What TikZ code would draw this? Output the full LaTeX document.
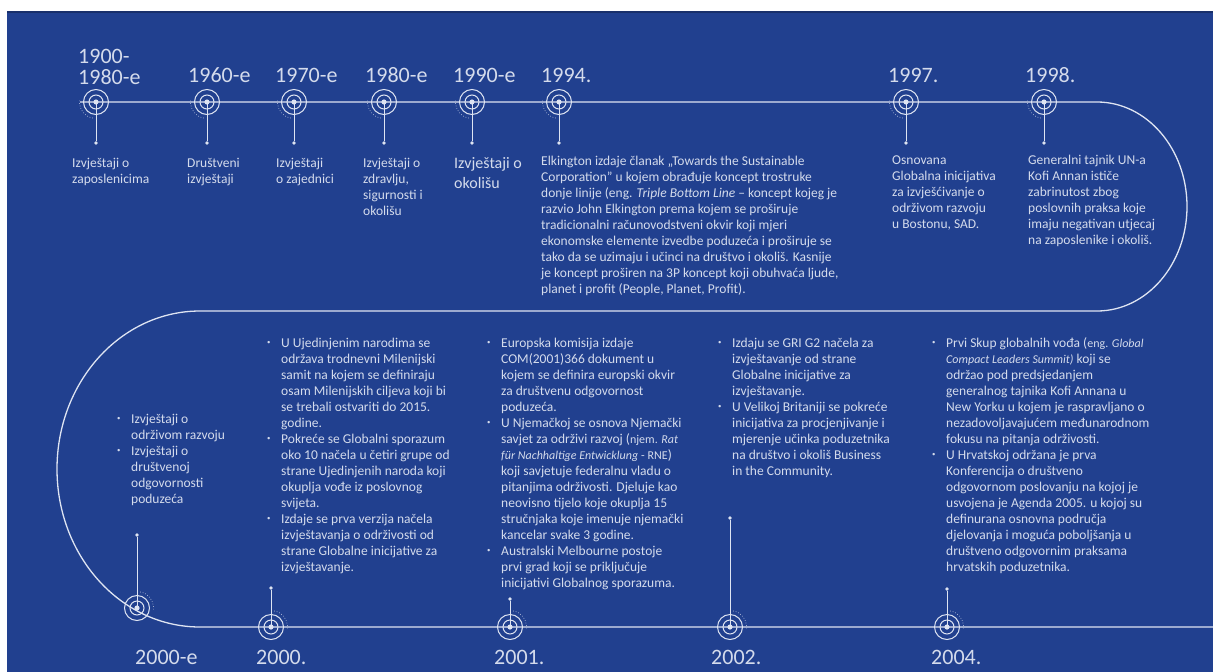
\documentclass[tikz,border=0pt]{standalone}
\usepackage{fontspec}
\setmainfont{Carlito}
\usepackage{graphicx}
\definecolor{bgblue}{RGB}{33,64,143}
\definecolor{trackcolor}{RGB}{222,228,242}
\definecolor{textcolor}{RGB}{212,219,236}
\newcommand{\bl}{\makebox[14pt][l]{\raisebox{2.4pt}{\scalebox{0.5}{\textbullet}}}}
\newcommand{\ii}{\hspace*{14pt}}
\newcommand{\sm}{\fontsize{12}{16}\selectfont}

\begin{document}
\begin{tikzpicture}[x=1pt,y=1pt,
        track/.style={trackcolor,line width=1.3pt},
        ring/.style={circle,draw=trackcolor,line width=1pt,minimum size=25pt,inner sep=0pt},
        ringdots/.style={trackcolor,line width=0.6pt,dotted},
        stem/.style={trackcolor,line width=1pt},
        tick/.style={circle,fill=trackcolor,minimum size=3.6pt,inner sep=0pt},
        body/.style={font=\fontsize{13.5}{16}\selectfont,text=textcolor,align=left,inner sep=0pt,anchor=north west,yshift=11.2pt},
        bigbody/.style={font=\fontsize{16}{20}\selectfont,text=textcolor,align=left,inner sep=0pt,anchor=north west,yshift=14pt},
        year/.style={font=\fontsize{22}{19}\selectfont,text=textcolor,align=left,inner sep=0pt,anchor=north west,yshift=13.3pt}]
        \useasboundingbox (0,0) rectangle (1213,-672);
        % draw background
        \fill[white] (0,0) rectangle (1213,-672);
        \fill[bgblue] (7,-11) rectangle (1213,-672);
        \fill[bgblue!75!black] (7,-11) rectangle (1213,-13);

        % draw track
        \draw[track] (80,-102) -- (1097,-102)
            arc[start angle=90,end angle=-90,x radius=90,y radius=104.5]
            -- (200,-311)
            arc[start angle=90,end angle=270,x radius=143,y radius=158]
            -- (1213,-627);

        % draw top milestones
        \foreach \name/\x in {m1900/96,m1960/207,m1970/294,m1980/384,m1990/472,m1994/559,m1997/906,m1998/1044} {
            \node[ring] (\name) at (\x,-102) {};
            \draw[trackcolor,line width=1pt] (\name.center) circle (7);
            \fill[trackcolor] (\name.center) circle (2.6);
            \draw[ringdots] ([shift={(175:16.5)}]\name.center) arc[start angle=175,end angle=265,radius=16.5];
            \node[tick] (\name dot) at (\x,-143) {};
            \draw[stem] (\name.center) -- (\name dot);
        }

        % draw bottom milestones
        \foreach \name/\x/\y/\t in {m2000e/137/608/535,m2000/271/627/588,m2001/510/627/599,m2002/730/627/518,m2004/947/627/589} {
            \node[ring] (\name) at (\x,-\y) {};
            \draw[trackcolor,line width=1pt] (\name.center) circle (7);
            \fill[trackcolor] (\name.center) circle (2.6);
            \draw[ringdots] ([shift={(-5:16.5)}]\name.center) arc[start angle=-5,end angle=85,radius=16.5];
            \node[tick] (\name dot) at (\x,-\t) {};
            \draw[stem] (\name.center) -- (\name dot);
        }

        % year labels
        \node[year] (y1900) at (78,-62) {\strut 1900-\\1980-e};
        \node[year] (y1960) at (188,-81) {\strut 1960-e};
        \node[year] (y1970) at (275,-81) {\strut 1970-e};
        \node[year] (y1980) at (365,-81) {\strut 1980-e};
        \node[year] (y1990) at (453,-81) {\strut 1990-e};
        \node[year] (y1994) at (541,-81) {\strut 1994.};
        \node[year] (y1997) at (888,-81) {\strut 1997.};
        \node[year] (y1998) at (1025,-81) {\strut 1998.};
        \node[year] (y2000e) at (135,-663) {\strut 2000-e};
        \node[year] (y2000) at (256,-663) {\strut 2000.};
        \node[year] (y2001) at (494,-663) {\strut 2001.};
        \node[year] (y2002) at (711,-663) {\strut 2002.};
        \node[year] (y2004) at (931,-663) {\strut 2004.};

        % top texts
        \node[body] (t1900) at (72,-167) {\strut Izvještaji o\\zaposlenicima};
        \node[body] (t1960) at (187,-167) {\strut Društveni\\izvještaji};
        \node[body] (t1970) at (276,-167) {\strut Izvještaji\\o zajednici};
        \node[body] (t1980) at (363,-167) {\strut Izvještaji o\\zdravlju,\\sigurnosti i\\okolišu};
        \node[bigbody] (t1990) at (454,-168.5) {\strut Izvještaji o\\okolišu};
        \node[body] (t1994) at (541,-165) {\strut Elkington izdaje članak „Towards the Sustainable\\
            Corporation” u kojem obrađuje koncept trostruke\\
            donje linije (eng. \textit{Triple Bottom Line} – koncept kojeg je\\
            razvio John Elkington prema kojem se proširuje\\
            tradicionalni računovodstveni okvir koji mjeri\\
            ekonomske elemente izvedbe poduzeća i proširuje se\\
            tako da se uzimaju i učinci na društvo i okoliš. Kasnije\\
            je koncept proširen na 3P koncept koji obuhvaća ljude,\\
            planet i profit (People, Planet, Profit).};
        \node[body] (t1997) at (892,-164) {\strut Osnovana\\Globalna inicijativa\\za izvješćivanje o\\održivom razvoju\\u Bostonu, SAD.};
        \node[body] (t1998) at (1028,-164) {\strut Generalni tajnik UN-a\\Kofi Annan ističe\\zabrinutost zbog\\poslovnih praksa koje\\imaju negativan utjecaj\\na zaposlenike i okoliš.};

        % bottom texts
        \node[body] (t2000e) at (117,-423) {\strut\bl Izvještaji o\\\ii održivom razvoju\\
            \bl Izvještaji o\\\ii društvenoj\\\ii odgovornosti\\\ii poduzeća};
        \node[body] (t2000) at (267,-347) {\strut\bl U Ujedinjenim narodima se\\
            \ii održava trodnevni Milenijski\\
            \ii samit na kojem se definiraju\\
            \ii osam Milenijskih ciljeva koji bi\\
            \ii se trebali ostvariti do 2015.\\
            \ii godine.\\
            \bl Pokreće se Globalni sporazum\\
            \ii oko 10 načela u četiri grupe od\\
            \ii strane Ujedinjenih naroda koji\\
            \ii okuplja vođe iz poslovnog\\
            \ii svijeta.\\
            \bl Izdaje se prva verzija načela\\
            \ii izvještavanja o održivosti od\\
            \ii strane Globalne inicijative za\\
            \ii izvještavanje.};
        \node[body] (t2001) at (487,-347) {\strut\bl Europska komisija izdaje\\
            \ii COM(2001)366 dokument u\\
            \ii kojem se definira europski okvir\\
            \ii za društvenu odgovornost\\
            \ii poduzeća.\\
            \bl U Njemačkoj se osnova Njemački\\
            \ii savjet za održivi razvoj ({\sm njem. \textit{Rat}}\\
            \ii {\sm\itshape für Nachhaltige Entwicklung} {\sm - RNE})\\
            \ii koji savjetuje federalnu vladu o\\
            \ii pitanjima održivosti. Djeluje kao\\
            \ii neovisno tijelo koje okuplja 15\\
            \ii stručnjaka koje imenuje njemački\\
            \ii kancelar svake 3 godine.\\
            \bl Australski Melbourne postoje\\
            \ii prvi grad koji se priključuje\\
            \ii inicijativi Globalnog sporazuma.};
        \node[body] (t2002) at (718,-347) {\strut\bl Izdaju se GRI G2 načela za\\
            \ii izvještavanje od strane\\
            \ii Globalne inicijative za\\
            \ii izvještavanje.\\
            \bl U Velikoj Britaniji se pokreće\\
            \ii inicijativa za procjenjivanje i\\
            \ii mjerenje učinka poduzetnika\\
            \ii na društvo i okoliš Business\\
            \ii in the Community.};
        \node[body] (t2004) at (932,-347) {\strut\bl Prvi Skup globalnih vođa ({\sm eng. \textit{Global}}\\
            \ii {\sm\itshape Compact Leaders Summit)} koji se\\
            \ii održao pod predsjedanjem\\
            \ii generalnog tajnika Kofi Annana u\\
            \ii New Yorku u kojem je raspravljano o\\
            \ii nezadovoljavajućem međunarodnom\\
            \ii fokusu na pitanja održivosti.\\
            \bl U Hrvatskoj održana je prva\\
            \ii Konferencija o društveno\\
            \ii odgovornom poslovanju na kojoj je\\
            \ii usvojena je Agenda 2005. u kojoj su\\
            \ii definurana osnovna područja\\
            \ii djelovanja i moguća poboljšanja u\\
            \ii društveno odgovornim praksama\\
            \ii hrvatskih poduzetnika.};
    \end{tikzpicture}
\end{document}
